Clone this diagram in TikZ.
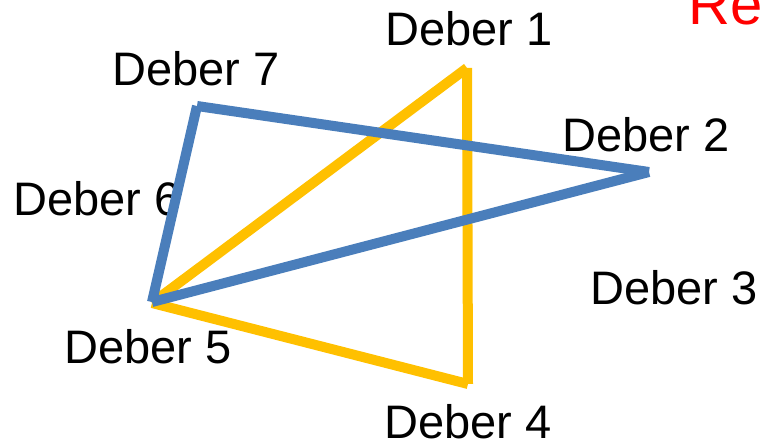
\documentclass[tikz,border=0pt]{standalone}
\usepackage{fontspec}
\setmainfont{Liberation Sans}
\definecolor{dyellow}{RGB}{255,192,0}
\definecolor{dblue}{RGB}{74,126,187}
\begin{document}
\begin{tikzpicture}[x=1pt,y=-1pt,
  lbl/.style={anchor=base west,inner sep=0pt,font=\fontsize{47}{50}\selectfont},
  yl/.style={draw=dyellow,line width=10pt,line cap=butt},
  bl/.style={draw=dblue,line width=10pt,line cap=butt}]
\useasboundingbox (0,0) rectangle (761,443);
\clip (0,0) rectangle (761,443);
% labels
\node[lbl] (t1) at (385,46) {Deber 1};
\node[lbl] (t7) at (112,86) {Deber 7};
\node[lbl] (t2) at (562,152) {Deber 2};
\node[lbl] (t6) at (13,216) {Deber 6};
\node[lbl] (t3) at (590,305) {Deber 3};
\node[lbl] (t5) at (64,364) {Deber 5};
\node[lbl] (t4) at (384,439) {Deber 4};
\node[anchor=base west,inner sep=0pt,text=red,font=\fontsize{58}{60}\selectfont] (re) at (688,25) {Re};
% vertices
\coordinate (y5) at (152,303);
\coordinate (y1) at (467,68);
\coordinate (y4) at (468,384);
\coordinate (b5) at (152,302);
\coordinate (b7) at (197,106);
\coordinate (b2) at (649,172);
% yellow triangle
\draw[yl] (y5) -- (y1);
\draw[yl] (y1) -- (y4);
\draw[yl] (y4) -- (y5);
% blue triangle
\draw[bl] (b5) -- (b7);
\draw[bl] (b7) -- (b2);
\draw[bl] (b2) -- (b5);
\end{tikzpicture}
\end{document}
